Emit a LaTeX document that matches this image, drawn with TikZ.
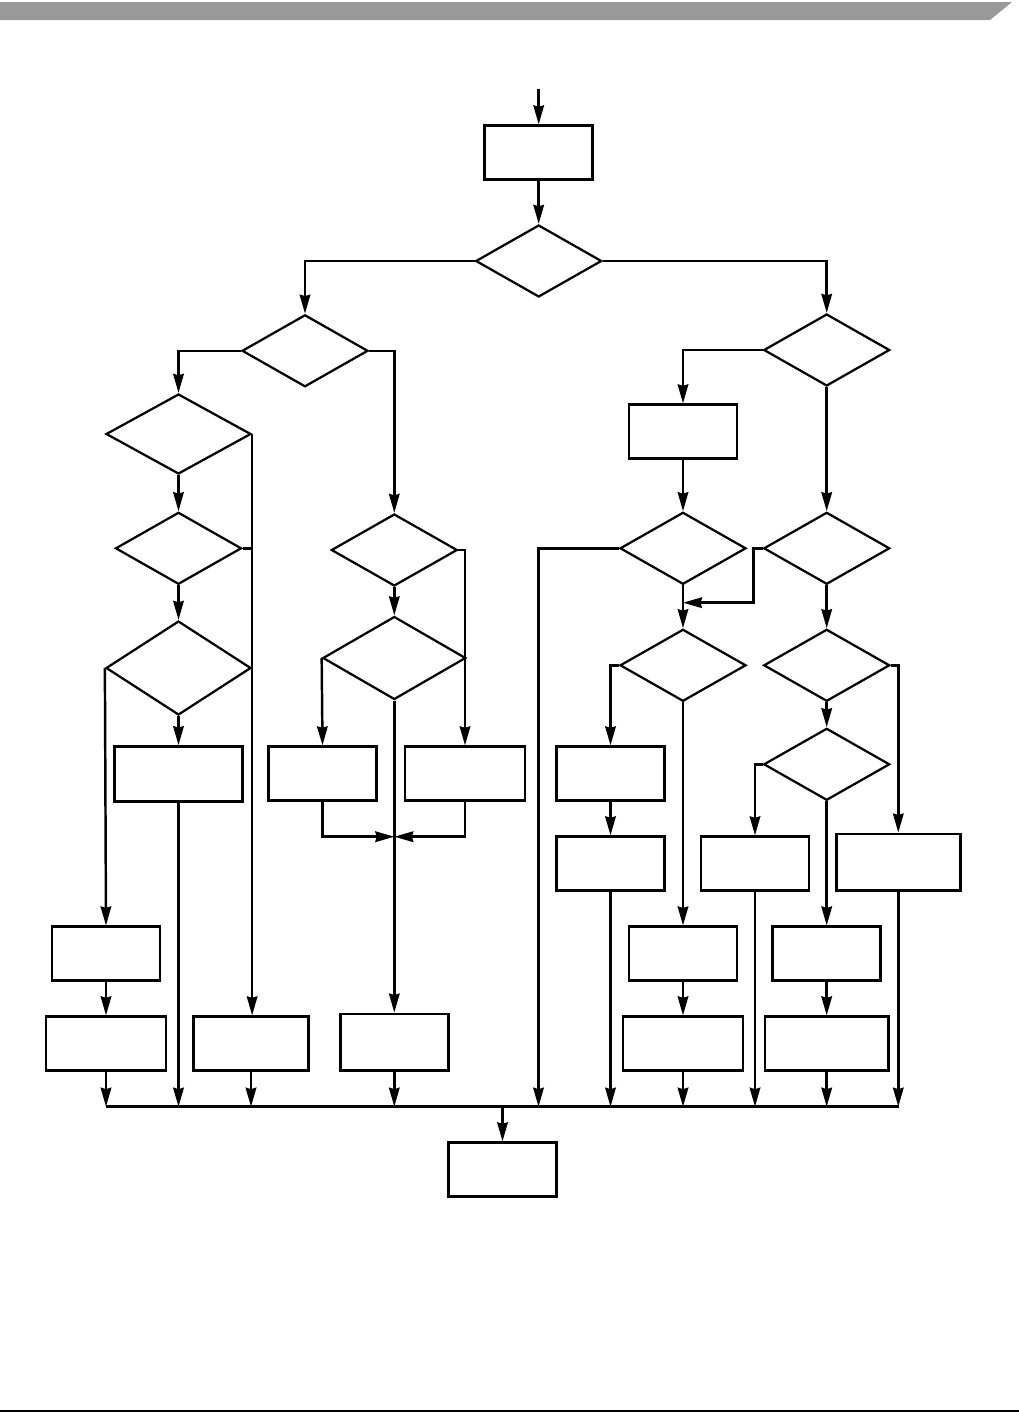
\documentclass[tikz,border=0pt]{standalone}
\usepackage{tikz}
\usetikzlibrary{arrows.meta,shapes.geometric,backgrounds}

\begin{document}
\begin{tikzpicture}[x=0.25mm,y=-0.25mm,
  box/.style={draw,line width=1.9pt,minimum width=27mm,minimum height=13.5mm,inner sep=0pt,fill=white},
  test/.style={draw,diamond,line width=1.6pt,minimum width=31.5mm,minimum height=18mm,inner sep=0pt,fill=white},
  >={Stealth[length=13.5pt,width=7.5pt,inset=1pt]}]
\useasboundingbox (0,0) rectangle (1019,1419);
% page header and footer
\fill[black!40] (0,2) -- (1012,2) -- (990,20) -- (0,20) -- cycle;
\draw[line width=0.9pt] (0,1411) -- (1019,1411);
% top
\coordinate (IN) at (538.7,89);
\node[box] (PROC001) at (538.7,152.7) {};
\node[test] (TEST001) at (538.7,261) {};
% left branch
\node[test] (TEST002) at (305,350.8) {};
\node[test,minimum width=36.25mm,minimum height=20mm] (TEST004) at (178.5,434) {};
\node[test] (TEST005) at (178.5,548.3) {};
\node[test,minimum width=36.25mm,minimum height=23.5mm] (TEST006) at (178.5,668) {};
\node[box,minimum width=32mm,minimum height=13.75mm] (PROC003) at (178.5,774) {};
\node[box] (PROC004) at (106,953.8) {};
\node[box,minimum width=30mm] (PROC005) at (106,1043.7) {};
\node[box,minimum width=28.75mm] (PROC006) at (251,1043.7) {};
\node[test] (TEST007) at (394.3,550) {};
\node[test,minimum width=35.75mm,minimum height=20.75mm] (TEST008) at (394.3,658) {};
\node[box] (PROC007) at (322.5,773.7) {};
\node[box,minimum width=30mm] (PROC008) at (465,773.7) {};
\node[box,minimum height=14.2mm] (PROC009) at (394.3,1042.3) {};
% right branch
\node[test] (TEST003) at (826.7,350) {};
\node[box] (PROC002) at (683,431.7) {};
\node[test] (TEST009) at (683,548.3) {};
\node[test] (TEST010) at (826.7,548.3) {};
\node[test] (TEST011) at (683,665.3) {};
\node[test] (TEST012) at (826.7,665.3) {};
\node[test] (TEST013) at (826.7,764.3) {};
\node[box] (PROC010) at (610.5,773.7) {};
\node[box] (PROC011) at (610.5,863.7) {};
\node[box] (PROC012) at (683,953.8) {};
\node[box,minimum width=30mm] (PROC013) at (683,1043.7) {};
\node[box] (PROC014) at (755,863.7) {};
\node[box] (PROC015) at (826.7,953.8) {};
\node[box,minimum width=30.8mm] (PROC016) at (826.7,1043.7) {};
\node[box,minimum width=31mm,minimum height=14.2mm] (PROC017) at (898.3,862.3) {};
% bottom
\coordinate (BUSL) at (106,1106.7);
\coordinate (BUSR) at (899.3,1106.7);
\coordinate (BUSM) at (502.5,1106.7);
\node[box] (PROC018) at (502.5,1169.7) {};
\coordinate (JOIN1) at (394.3,836.7);
\coordinate (JOIN2) at (683,602.7);
\begin{scope}[on background layer={line width=1.75pt}]
\draw[->] (IN) -- (PROC001);
\draw[->] (PROC001) -- (TEST001);
\draw[->] (TEST001.west) -| (TEST002.north);
\draw[->] (TEST001.east) -| (TEST003.north);
% left side
\draw[->] (TEST002.west) -| (TEST004.north);
\draw[->] (TEST002.east) -| (TEST007.north);
\draw[->] (TEST004) -- (TEST005);
\draw[->] (TEST005) -- (TEST006);
\draw[->] (TEST006) -- (PROC003);
\draw[->] (TEST004.east) -- (TEST004.east |- PROC006.north);
\draw (TEST005.east) -- (TEST005.east -| TEST004.east);
\draw[->] (TEST006.west) -- (PROC004.north);
\draw[->] (PROC004) -- (PROC005);
\draw[->] (TEST007) -- (TEST008);
\draw[->] (TEST007.east) -| (PROC008.north);
\draw[->] (TEST008.west) -- (PROC007.north);
\draw[->] (TEST008) -- (PROC009);
\draw[->] (PROC007.south) |- (JOIN1);
\draw[->] (PROC008.south) |- (JOIN1);
% right side
\draw[->] (TEST003.west) -| (PROC002.north);
\draw[->] (TEST003) -- (TEST010);
\draw[->] (PROC002) -- (TEST009);
\draw[->] (TEST009) -- (TEST011);
\draw[->] (TEST010) -- (TEST012);
\draw[->] (TEST010.west) -- ++(-9.3,0) |- (JOIN2);
\draw[->] (TEST011.west) -| (PROC010.north);
\draw[->] (PROC010) -- (PROC011);
\draw[->] (TEST011) -- (PROC012);
\draw[->] (PROC012) -- (PROC013);
\draw[->] (TEST012) -- (TEST013);
\draw[->] (TEST012.east) -| (PROC017.north);
\draw[->] (TEST013.west) -| (PROC014.north);
\draw[->] (TEST013) -- (PROC015);
\draw[->] (PROC015) -- (PROC016);
% into the bus
\draw[->] (TEST009.west) -| (BUSL -| 538.5,0);
\draw[->] (PROC005) -- (PROC005 |- BUSL);
\draw[->] (PROC003) -- (PROC003 |- BUSL);
\draw[->] (PROC006) -- (PROC006 |- BUSL);
\draw[->] (PROC009) -- (PROC009 |- BUSL);
\draw[->] (PROC011) -- (PROC011 |- BUSL);
\draw[->] (PROC013) -- (PROC013 |- BUSL);
\draw[->] (PROC014) -- (PROC014 |- BUSL);
\draw[->] (PROC016) -- (PROC016 |- BUSL);
\draw[->] (PROC017) -- (PROC017 |- BUSL);
\draw (BUSL) -- (BUSR);
\draw[->] (BUSM) -- (PROC018);
\end{scope}
\end{tikzpicture}
\end{document}
